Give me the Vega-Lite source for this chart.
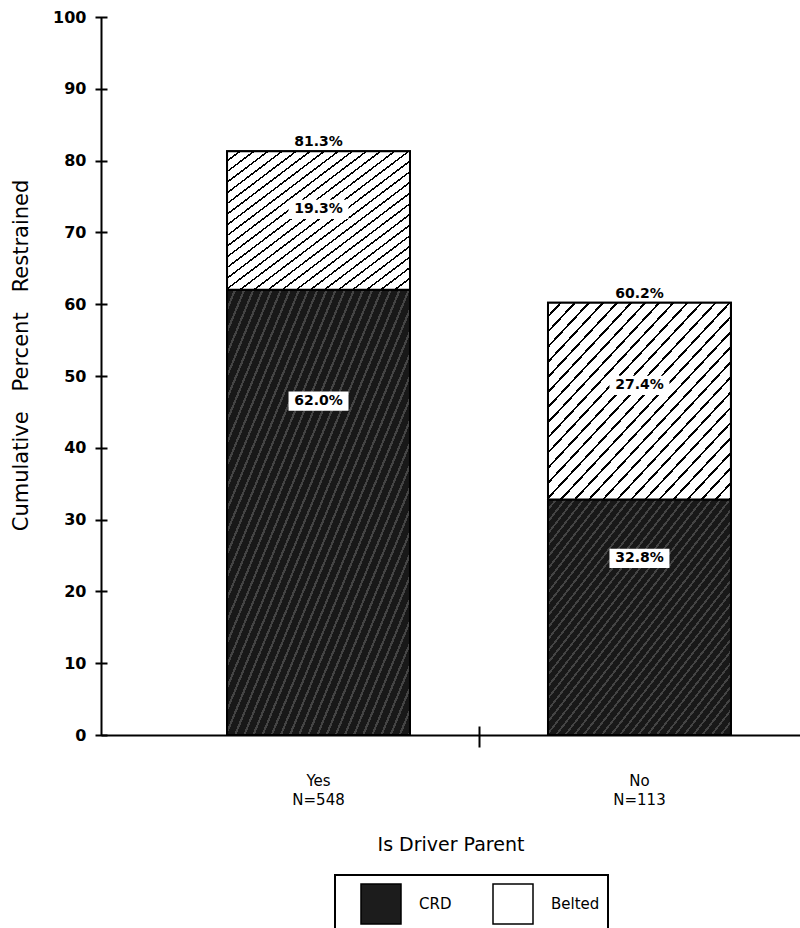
{
  "$schema": "https://vega.github.io/schema/vega-lite/v6.json",
  "width": 699,
  "height": 718,
  "autosize": {"type": "none"},
  "padding": {"left": 101, "top": 17, "right": 0, "bottom": 193},
  "background": "white",
  "config": {
    "font": "DejaVu Sans",
    "view": {"stroke": null},
    "legend": {"strokeWidth": 2},
    "axis": {"labelColor": "black", "titleColor": "black", "domainColor": "black", "grid": false, "titleFontWeight": "normal"}
  },
  "data": {
    "values": [
      {"parent": "Yes", "series": "CRD", "pct": 62.0, "order": 1},
      {"parent": "Yes", "series": "Belted", "pct": 19.3, "order": 2},
      {"parent": "No", "series": "CRD", "pct": 32.8, "order": 1},
      {"parent": "No", "series": "Belted", "pct": 27.4, "order": 2}
    ]
  },
  "transform": [
    {"stack": "pct", "groupby": ["parent"], "sort": [{"field": "order", "order": "ascending"}], "as": ["y0", "y1"]},
    {"calculate": "datum.y0 + (datum.series === 'CRD' ? 0.75 : 0.58) * (datum.y1 - datum.y0)", "as": "labelY"},
    {"calculate": "format(datum.pct, '.1f') + '%'", "as": "label"}
  ],
  "resolve": {"axis": {"x": "independent", "y": "independent"}},
  "layer": [
    {
      "mark": {"type": "bar", "stroke": "black", "strokeWidth": 2},
      "encoding": {
        "x": {
          "field": "parent",
          "type": "nominal",
          "sort": ["Yes", "No"],
          "scale": {"paddingInner": 0.43, "paddingOuter": 0.304, "align": 0.646},
          "axis": {
            "orient": "bottom",
            "title": "Is Driver Parent",
            "titleFontSize": 19,
            "titleFontWeight": "normal",
            "titleY": 115,
            "titleBaseline": "alphabetic",
            "labelAngle": 0,
            "labelFontSize": 15,
            "labelLineHeight": 19,
            "labelPadding": 38,
            "labelBaseline": "top",
            "labelExpr": "datum.value === 'Yes' ? ['Yes', 'N=548'] : ['No', 'N=113']",
            "domainWidth": 2,
            "ticks": false
          }
        },
        "y": {
          "field": "y1",
          "type": "quantitative",
          "scale": {"domain": [0, 100], "nice": false},
          "axis": {
            "orient": "left",
            "title": "Cumulative \u00a0\u00a0Percent \u00a0\u00a0Restrained",
            "values": [0, 10, 20, 30, 40, 50, 60, 70, 80, 90, 100],
            "titleFontSize": 21,
            "titleX": -74,
            "titleY": 338,
            "titleBaseline": "alphabetic",
            "titleAngle": -90,
            "labelFontSize": 16,
            "labelFontWeight": "bold",
            "labelPadding": 15,
            "domainWidth": 2,
            "ticks": false
          }
        },
        "y2": {"field": "y0"},
        "color": {
          "field": "series",
          "type": "nominal",
          "scale": {"domain": ["CRD", "Belted"], "range": ["#1c1c1c", "#ffffff"]},
          "legend": {
            "orient": "none",
            "legendX": 234,
            "legendY": 858,
            "direction": "horizontal",
            "title": null,
            "symbolType": "square",
            "symbolSize": 1600,
            "symbolStrokeColor": "black",
            "symbolStrokeWidth": 1.5,
            "symbolOffset": 17,
            "labelFontSize": 15,
            "labelColor": "black",
            "labelOffset": 17,
            "columnPadding": 23,
            "padding": 8,
            "strokeColor": "black"
          }
        }
      }
    },
    {
      "transform": [{"filter": "datum.series === 'CRD'"}],
      "mark": {
        "type": "bar",
        "stroke": "black",
        "strokeWidth": 2,
        "fill": {
          "gradient": "linear", "x1": 0, "y1": 0, "x2": 1, "y2": 1,
          "stops": [
            {"offset": 0, "color": "#181818"}, {"offset": 0.0188, "color": "#181818"}, {"offset": 0.0188, "color": "#444444"}, {"offset": 0.025, "color": "#444444"},
            {"offset": 0.025, "color": "#181818"}, {"offset": 0.0438, "color": "#181818"}, {"offset": 0.0438, "color": "#444444"}, {"offset": 0.05, "color": "#444444"},
            {"offset": 0.05, "color": "#181818"}, {"offset": 0.0688, "color": "#181818"}, {"offset": 0.0688, "color": "#444444"}, {"offset": 0.075, "color": "#444444"},
            {"offset": 0.075, "color": "#181818"}, {"offset": 0.0938, "color": "#181818"}, {"offset": 0.0938, "color": "#444444"}, {"offset": 0.1, "color": "#444444"},
            {"offset": 0.1, "color": "#181818"}, {"offset": 0.1188, "color": "#181818"}, {"offset": 0.1188, "color": "#444444"}, {"offset": 0.125, "color": "#444444"},
            {"offset": 0.125, "color": "#181818"}, {"offset": 0.1438, "color": "#181818"}, {"offset": 0.1438, "color": "#444444"}, {"offset": 0.15, "color": "#444444"},
            {"offset": 0.15, "color": "#181818"}, {"offset": 0.1688, "color": "#181818"}, {"offset": 0.1688, "color": "#444444"}, {"offset": 0.175, "color": "#444444"},
            {"offset": 0.175, "color": "#181818"}, {"offset": 0.1938, "color": "#181818"}, {"offset": 0.1938, "color": "#444444"}, {"offset": 0.2, "color": "#444444"},
            {"offset": 0.2, "color": "#181818"}, {"offset": 0.2188, "color": "#181818"}, {"offset": 0.2188, "color": "#444444"}, {"offset": 0.225, "color": "#444444"},
            {"offset": 0.225, "color": "#181818"}, {"offset": 0.2438, "color": "#181818"}, {"offset": 0.2438, "color": "#444444"}, {"offset": 0.25, "color": "#444444"},
            {"offset": 0.25, "color": "#181818"}, {"offset": 0.2688, "color": "#181818"}, {"offset": 0.2688, "color": "#444444"}, {"offset": 0.275, "color": "#444444"},
            {"offset": 0.275, "color": "#181818"}, {"offset": 0.2938, "color": "#181818"}, {"offset": 0.2938, "color": "#444444"}, {"offset": 0.3, "color": "#444444"},
            {"offset": 0.3, "color": "#181818"}, {"offset": 0.3188, "color": "#181818"}, {"offset": 0.3188, "color": "#444444"}, {"offset": 0.325, "color": "#444444"},
            {"offset": 0.325, "color": "#181818"}, {"offset": 0.3438, "color": "#181818"}, {"offset": 0.3438, "color": "#444444"}, {"offset": 0.35, "color": "#444444"},
            {"offset": 0.35, "color": "#181818"}, {"offset": 0.3688, "color": "#181818"}, {"offset": 0.3688, "color": "#444444"}, {"offset": 0.375, "color": "#444444"},
            {"offset": 0.375, "color": "#181818"}, {"offset": 0.3938, "color": "#181818"}, {"offset": 0.3938, "color": "#444444"}, {"offset": 0.4, "color": "#444444"},
            {"offset": 0.4, "color": "#181818"}, {"offset": 0.4188, "color": "#181818"}, {"offset": 0.4188, "color": "#444444"}, {"offset": 0.425, "color": "#444444"},
            {"offset": 0.425, "color": "#181818"}, {"offset": 0.4438, "color": "#181818"}, {"offset": 0.4438, "color": "#444444"}, {"offset": 0.45, "color": "#444444"},
            {"offset": 0.45, "color": "#181818"}, {"offset": 0.4688, "color": "#181818"}, {"offset": 0.4688, "color": "#444444"}, {"offset": 0.475, "color": "#444444"},
            {"offset": 0.475, "color": "#181818"}, {"offset": 0.4938, "color": "#181818"}, {"offset": 0.4938, "color": "#444444"}, {"offset": 0.5, "color": "#444444"},
            {"offset": 0.5, "color": "#181818"}, {"offset": 0.5188, "color": "#181818"}, {"offset": 0.5188, "color": "#444444"}, {"offset": 0.525, "color": "#444444"},
            {"offset": 0.525, "color": "#181818"}, {"offset": 0.5438, "color": "#181818"}, {"offset": 0.5438, "color": "#444444"}, {"offset": 0.55, "color": "#444444"},
            {"offset": 0.55, "color": "#181818"}, {"offset": 0.5688, "color": "#181818"}, {"offset": 0.5688, "color": "#444444"}, {"offset": 0.575, "color": "#444444"},
            {"offset": 0.575, "color": "#181818"}, {"offset": 0.5938, "color": "#181818"}, {"offset": 0.5938, "color": "#444444"}, {"offset": 0.6, "color": "#444444"},
            {"offset": 0.6, "color": "#181818"}, {"offset": 0.6188, "color": "#181818"}, {"offset": 0.6188, "color": "#444444"}, {"offset": 0.625, "color": "#444444"},
            {"offset": 0.625, "color": "#181818"}, {"offset": 0.6438, "color": "#181818"}, {"offset": 0.6438, "color": "#444444"}, {"offset": 0.65, "color": "#444444"},
            {"offset": 0.65, "color": "#181818"}, {"offset": 0.6688, "color": "#181818"}, {"offset": 0.6688, "color": "#444444"}, {"offset": 0.675, "color": "#444444"},
            {"offset": 0.675, "color": "#181818"}, {"offset": 0.6938, "color": "#181818"}, {"offset": 0.6938, "color": "#444444"}, {"offset": 0.7, "color": "#444444"},
            {"offset": 0.7, "color": "#181818"}, {"offset": 0.7188, "color": "#181818"}, {"offset": 0.7188, "color": "#444444"}, {"offset": 0.725, "color": "#444444"},
            {"offset": 0.725, "color": "#181818"}, {"offset": 0.7438, "color": "#181818"}, {"offset": 0.7438, "color": "#444444"}, {"offset": 0.75, "color": "#444444"},
            {"offset": 0.75, "color": "#181818"}, {"offset": 0.7688, "color": "#181818"}, {"offset": 0.7688, "color": "#444444"}, {"offset": 0.775, "color": "#444444"},
            {"offset": 0.775, "color": "#181818"}, {"offset": 0.7938, "color": "#181818"}, {"offset": 0.7938, "color": "#444444"}, {"offset": 0.8, "color": "#444444"},
            {"offset": 0.8, "color": "#181818"}, {"offset": 0.8188, "color": "#181818"}, {"offset": 0.8188, "color": "#444444"}, {"offset": 0.825, "color": "#444444"},
            {"offset": 0.825, "color": "#181818"}, {"offset": 0.8438, "color": "#181818"}, {"offset": 0.8438, "color": "#444444"}, {"offset": 0.85, "color": "#444444"},
            {"offset": 0.85, "color": "#181818"}, {"offset": 0.8688, "color": "#181818"}, {"offset": 0.8688, "color": "#444444"}, {"offset": 0.875, "color": "#444444"},
            {"offset": 0.875, "color": "#181818"}, {"offset": 0.8938, "color": "#181818"}, {"offset": 0.8938, "color": "#444444"}, {"offset": 0.9, "color": "#444444"},
            {"offset": 0.9, "color": "#181818"}, {"offset": 0.9188, "color": "#181818"}, {"offset": 0.9188, "color": "#444444"}, {"offset": 0.925, "color": "#444444"},
            {"offset": 0.925, "color": "#181818"}, {"offset": 0.9438, "color": "#181818"}, {"offset": 0.9438, "color": "#444444"}, {"offset": 0.95, "color": "#444444"},
            {"offset": 0.95, "color": "#181818"}, {"offset": 0.9688, "color": "#181818"}, {"offset": 0.9688, "color": "#444444"}, {"offset": 0.975, "color": "#444444"},
            {"offset": 0.975, "color": "#181818"}, {"offset": 0.9938, "color": "#181818"}, {"offset": 0.9938, "color": "#444444"}, {"offset": 1.0, "color": "#444444"}
          ]
        }
      },
      "encoding": {
        "x": {"field": "parent", "type": "nominal", "sort": ["Yes", "No"], "axis": null},
        "y": {"field": "y1", "type": "quantitative", "scale": {"domain": [0, 100], "nice": false}, "axis": null},
        "y2": {"field": "y0"}
      }
    },
    {
      "transform": [{"filter": "datum.series === 'Belted'"}],
      "mark": {
        "type": "bar",
        "stroke": "black",
        "strokeWidth": 2,
        "fill": {
          "gradient": "linear", "x1": 0, "y1": 0, "x2": 1, "y2": 1,
          "stops": [
            {"offset": 0.0000, "color": "white"}, {"offset": 0.0315, "color": "white"}, {"offset": 0.0315, "color": "black"}, {"offset": 0.0385, "color": "black"},
            {"offset": 0.0385, "color": "white"}, {"offset": 0.0700, "color": "white"}, {"offset": 0.0700, "color": "black"}, {"offset": 0.0769, "color": "black"},
            {"offset": 0.0769, "color": "white"}, {"offset": 0.1085, "color": "white"}, {"offset": 0.1085, "color": "black"}, {"offset": 0.1154, "color": "black"},
            {"offset": 0.1154, "color": "white"}, {"offset": 0.1469, "color": "white"}, {"offset": 0.1469, "color": "black"}, {"offset": 0.1538, "color": "black"},
            {"offset": 0.1538, "color": "white"}, {"offset": 0.1854, "color": "white"}, {"offset": 0.1854, "color": "black"}, {"offset": 0.1923, "color": "black"},
            {"offset": 0.1923, "color": "white"}, {"offset": 0.2238, "color": "white"}, {"offset": 0.2238, "color": "black"}, {"offset": 0.2308, "color": "black"},
            {"offset": 0.2308, "color": "white"}, {"offset": 0.2623, "color": "white"}, {"offset": 0.2623, "color": "black"}, {"offset": 0.2692, "color": "black"},
            {"offset": 0.2692, "color": "white"}, {"offset": 0.3008, "color": "white"}, {"offset": 0.3008, "color": "black"}, {"offset": 0.3077, "color": "black"},
            {"offset": 0.3077, "color": "white"}, {"offset": 0.3392, "color": "white"}, {"offset": 0.3392, "color": "black"}, {"offset": 0.3462, "color": "black"},
            {"offset": 0.3462, "color": "white"}, {"offset": 0.3777, "color": "white"}, {"offset": 0.3777, "color": "black"}, {"offset": 0.3846, "color": "black"},
            {"offset": 0.3846, "color": "white"}, {"offset": 0.4162, "color": "white"}, {"offset": 0.4162, "color": "black"}, {"offset": 0.4231, "color": "black"},
            {"offset": 0.4231, "color": "white"}, {"offset": 0.4546, "color": "white"}, {"offset": 0.4546, "color": "black"}, {"offset": 0.4615, "color": "black"},
            {"offset": 0.4615, "color": "white"}, {"offset": 0.4931, "color": "white"}, {"offset": 0.4931, "color": "black"}, {"offset": 0.5000, "color": "black"},
            {"offset": 0.5000, "color": "white"}, {"offset": 0.5315, "color": "white"}, {"offset": 0.5315, "color": "black"}, {"offset": 0.5385, "color": "black"},
            {"offset": 0.5385, "color": "white"}, {"offset": 0.5700, "color": "white"}, {"offset": 0.5700, "color": "black"}, {"offset": 0.5769, "color": "black"},
            {"offset": 0.5769, "color": "white"}, {"offset": 0.6085, "color": "white"}, {"offset": 0.6085, "color": "black"}, {"offset": 0.6154, "color": "black"},
            {"offset": 0.6154, "color": "white"}, {"offset": 0.6469, "color": "white"}, {"offset": 0.6469, "color": "black"}, {"offset": 0.6538, "color": "black"},
            {"offset": 0.6538, "color": "white"}, {"offset": 0.6854, "color": "white"}, {"offset": 0.6854, "color": "black"}, {"offset": 0.6923, "color": "black"},
            {"offset": 0.6923, "color": "white"}, {"offset": 0.7238, "color": "white"}, {"offset": 0.7238, "color": "black"}, {"offset": 0.7308, "color": "black"},
            {"offset": 0.7308, "color": "white"}, {"offset": 0.7623, "color": "white"}, {"offset": 0.7623, "color": "black"}, {"offset": 0.7692, "color": "black"},
            {"offset": 0.7692, "color": "white"}, {"offset": 0.8008, "color": "white"}, {"offset": 0.8008, "color": "black"}, {"offset": 0.8077, "color": "black"},
            {"offset": 0.8077, "color": "white"}, {"offset": 0.8392, "color": "white"}, {"offset": 0.8392, "color": "black"}, {"offset": 0.8462, "color": "black"},
            {"offset": 0.8462, "color": "white"}, {"offset": 0.8777, "color": "white"}, {"offset": 0.8777, "color": "black"}, {"offset": 0.8846, "color": "black"},
            {"offset": 0.8846, "color": "white"}, {"offset": 0.9162, "color": "white"}, {"offset": 0.9162, "color": "black"}, {"offset": 0.9231, "color": "black"},
            {"offset": 0.9231, "color": "white"}, {"offset": 0.9546, "color": "white"}, {"offset": 0.9546, "color": "black"}, {"offset": 0.9615, "color": "black"},
            {"offset": 0.9615, "color": "white"}, {"offset": 0.9931, "color": "white"}, {"offset": 0.9931, "color": "black"}, {"offset": 1.0000, "color": "black"}
          ]
        }
      },
      "encoding": {
        "x": {"field": "parent", "type": "nominal", "sort": ["Yes", "No"], "axis": null},
        "y": {"field": "y1", "type": "quantitative", "scale": {"domain": [0, 100], "nice": false}, "axis": null},
        "y2": {"field": "y0"}
      }
    },
    {
      "mark": {"type": "point", "shape": "M-1,-0.32H1V0.32H-1Z", "filled": true, "color": "white", "fill": "white", "opacity": 1, "strokeWidth": 0, "size": 3600},
      "encoding": {
        "x": {
          "field": "parent", "type": "nominal", "sort": ["Yes", "No"],
          "axis": {
            "orient": "bottom",
            "title": null,
            "labels": false,
            "domain": false,
            "offset": -9,
            "tickSize": 21,
            "tickWidth": 2,
            "tickOffset": -160.5,
            "tickColor": {"condition": {"test": "datum.value === 'No'", "value": "black"}, "value": "rgba(0,0,0,0)"}
          }
        },
        "y": {
          "field": "labelY", "type": "quantitative", "scale": {"domain": [0, 100], "nice": false},
          "axis": {
            "orient": "left",
            "title": null,
            "labels": false,
            "domain": false,
            "offset": -6,
            "tickSize": 12,
            "tickWidth": 2,
            "tickColor": "black",
            "values": [0, 10, 20, 30, 40, 50, 60, 70, 80, 90, 100]
          }
        }
      }
    },
    {
      "mark": {"type": "text", "fontSize": 14, "fontWeight": "bold", "align": "center", "baseline": "middle", "color": "black"},
      "encoding": {
        "x": {"field": "parent", "type": "nominal", "sort": ["Yes", "No"], "axis": null},
        "y": {"field": "labelY", "type": "quantitative", "scale": {"domain": [0, 100], "nice": false}, "axis": null},
        "text": {"field": "label", "type": "nominal"}
      }
    },
    {
      "transform": [
        {"aggregate": [{"op": "sum", "field": "pct", "as": "total"}], "groupby": ["parent"]},
        {"calculate": "format(datum.total, '.1f') + '%'", "as": "tlabel"}
      ],
      "mark": {"type": "text", "fontSize": 14, "fontWeight": "bold", "align": "center", "baseline": "alphabetic", "dy": -5, "color": "black"},
      "encoding": {
        "x": {"field": "parent", "type": "nominal", "sort": ["Yes", "No"], "axis": null},
        "y": {"field": "total", "type": "quantitative", "scale": {"domain": [0, 100], "nice": false}, "axis": null},
        "text": {"field": "tlabel", "type": "nominal"}
      }
    }
  ]
}
